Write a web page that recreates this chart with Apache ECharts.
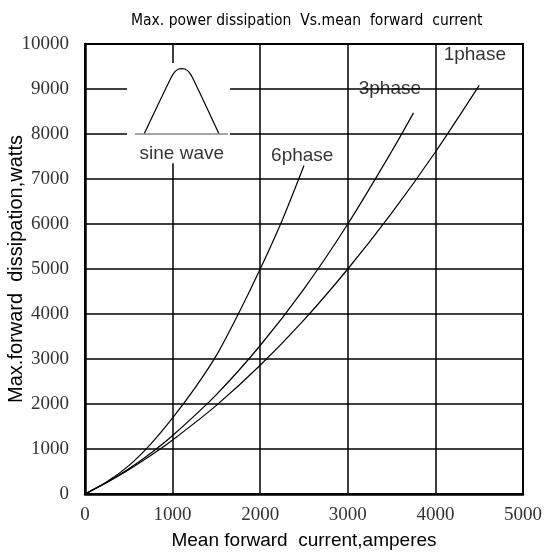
<!DOCTYPE html>
<html>
<head>
<meta charset="utf-8">
<script src="https://cdn.jsdelivr.net/npm/echarts@6/dist/echarts.min.js"></script>
<style>
    html, body { margin: 0; padding: 0; background: #fff; }
    #main { width: 545px; height: 558px; }
</style>
</head>
<body>
<div id="main"></div>
<script>
    // curves (amperes -> watts)
    var amps1 = [0, 250, 500, 750, 1000, 1500, 2000, 2500, 3000, 3500, 4000, 4500];
    var watts1 = [0, 255, 540, 855, 1200, 1970, 2860, 3870, 5000, 6240, 7600, 9080];
    var amps3 = [0, 250, 500, 750, 1000, 1500, 2000, 2500, 3000, 3500, 3750];
    var watts3 = [0, 260, 560, 905, 1300, 2210, 3300, 4560, 6000, 7610, 8470];
    var amps6 = [0, 250, 500, 750, 1000, 1250, 1500, 1750, 2000, 2250, 2500];
    var watts6 = [0, 270, 630, 1110, 1690, 2340, 3080, 4000, 5000, 6080, 7300];

    // little sine-wave sketch in the upper left corner
    var waveX = [675, 985, 1030, 1070, 1105, 1140, 1180, 1225, 1530];
    var waveY = [8000, 9260, 9390, 9445, 9455, 9445, 9390, 9260, 8000];
    var baseX = [570, 1630];
    var baseY = [8000, 8000];

    // annotations
    var noteText = ['1phase', '3phase', '6phase', 'sine wave'];
    var noteX = [4450, 3480, 2480, 1105];
    var noteY = [9760, 9000, 7520, 7570];

    function pairs(xs, ys) {
        return xs.map(function (x, i) { return [x, ys[i]]; });
    }

    var myChart = echarts.init(document.getElementById('main'));

    var curve = function (name, xs, ys) {
        return {
            name: name,
            type: 'line',
            data: pairs(xs, ys),
            smooth: 0.3,
            symbol: 'none',
            lineStyle: { color: '#000', width: 1.2 },
            z: 3
        };
    };

    myChart.setOption({
        backgroundColor: '#fff',
        animation: false,
        title: {
            text: 'Max. power dissipation  Vs.mean  forward  current',
            left: 126,
            top: 8,
            textStyle: {
                fontFamily: "'Liberation Sans Narrow', 'DejaVu Sans Condensed', sans-serif",
                fontSize: 15.5,
                fontWeight: 'normal',
                color: '#000'
            }
        },
        grid: {
            left: 85,
            right: 22,
            top: 44,
            bottom: 64,
            outerBoundsMode: 'none',
            containLabel: false,
            show: true,
            borderColor: '#000',
            borderWidth: 2
        },
        xAxis: {
            type: 'value',
            min: 0,
            max: 5000,
            interval: 1000,
            name: 'Mean forward  current,amperes',
            nameLocation: 'middle',
            nameGap: 37,
            nameMoveOverlap: false,
            nameTextStyle: { fontFamily: "'Liberation Sans', Arial, sans-serif", fontSize: 19, color: '#000' },
            axisLine: { show: true, lineStyle: { color: '#000', width: 2.5 } },
            axisTick: { show: false },
            axisLabel: {
                margin: 12,
                formatter: function (v) { return String(v); },
                fontFamily: "'Liberation Serif', serif",
                fontSize: 19,
                color: '#333'
            },
            splitLine: { show: true, lineStyle: { color: '#000', width: 1.5 } }
        },
        yAxis: {
            type: 'value',
            min: 0,
            max: 10000,
            interval: 1000,
            name: 'Max.forward  dissipation,watts',
            nameLocation: 'middle',
            nameGap: 59,
            nameMoveOverlap: false,
            nameTextStyle: { fontFamily: "'Liberation Sans', Arial, sans-serif", fontSize: 20, color: '#000' },
            axisLine: { show: true, lineStyle: { color: '#000', width: 2.5 } },
            axisTick: { show: false },
            axisLabel: {
                margin: 16,
                formatter: function (v) { return String(v); },
                fontFamily: "'Liberation Serif', serif",
                fontSize: 19,
                color: '#333'
            },
            splitLine: { show: true, lineStyle: { color: '#000', width: 1.5 } }
        },
        series: [
            {
                name: 'sine wave',
                type: 'line',
                data: pairs(waveX, waveY),
                smooth: 0.25,
                symbol: 'none',
                lineStyle: { color: '#000', width: 1.2 },
                z: 4,
                markArea: {
                    silent: true,
                    itemStyle: { color: '#fff', opacity: 1 },
                    data: [[{ coord: [480, 9580] }, { coord: [1655, 7350] }]]
                }
            },
            {
                name: 'base',
                type: 'line',
                data: pairs(baseX, baseY),
                symbol: 'none',
                lineStyle: { color: '#888', width: 1.5 },
                z: 4
            },
            curve('1phase', amps1, watts1),
            curve('3phase', amps3, watts3),
            curve('6phase', amps6, watts6),
            {
                name: 'notes',
                type: 'scatter',
                symbolSize: 0,
                z: 5,
                data: noteText.map(function (t, i) { return { name: t, value: [noteX[i], noteY[i]] }; }),
                label: {
                    show: true,
                    position: 'inside',
                    formatter: '{b}',
                    fontFamily: "'Liberation Sans', Arial, sans-serif",
                    fontSize: 19,
                    color: '#000'
                }
            }
        ]
    });
</script>
</body>
</html>
